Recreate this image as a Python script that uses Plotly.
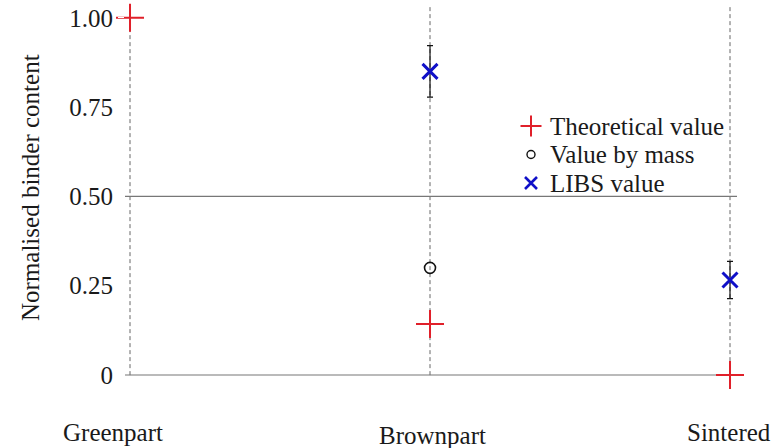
import plotly.graph_objects as go

# Processing stages and measured binder contents (normalised)
stages = ["Greenpart", "Brownpart", "Sintered"]
stage_pos = [0, 1, 2]

theoretical_x = [0, 1, 2]
theoretical_y = [1.00, 0.143, 0.0]

mass_x = [1]
mass_y = [0.30]

libs_x = [1, 2]
libs_y = [0.85, 0.266]
libs_err = [0.072, 0.052]

ytick_vals = [0, 0.25, 0.5, 0.75, 1.0]
ytick_text = ["0", "0.25", "0.50", "0.75", "1.00"]

legend_names = ["Theoretical value", "Value by mass", "LIBS value"]

FONT = "Liberation Serif"
TEXT = "#1a1a1a"
FS = 25
RED, BLACK, BLUE = "#e0202a", "#111111", "#1010c8"

# Plot area in pixels (left, right, top, bottom)
L, R, T, B = 125, 737, 5, 380
W, H = 771, 448


def px_to_paper(px, py):
    return (px - L) / (R - L), (B - py) / (B - T)


marker_styles = [
    dict(symbol="cross-thin-open", size=20, color=RED, line=dict(width=2, color=RED)),
    dict(symbol="circle-open", size=11, color=BLACK, line=dict(width=1.6, color=BLACK)),
    dict(symbol="x-thin-open", size=15, color=BLUE, line=dict(width=3, color=BLUE)),
]

fig = go.Figure()

fig.add_trace(go.Scatter(
    x=theoretical_x, y=theoretical_y, mode="markers", name=legend_names[0],
    marker=marker_styles[0], cliponaxis=False,
))
fig.add_trace(go.Scatter(
    x=mass_x, y=mass_y, mode="markers", name=legend_names[1],
    marker=marker_styles[1], cliponaxis=False,
))
fig.add_trace(go.Scatter(
    x=libs_x, y=libs_y, mode="markers", name=legend_names[2],
    marker=marker_styles[2],
    error_y=dict(type="data", array=libs_err, visible=True,
                 color=BLACK, thickness=1.2, width=3),
    cliponaxis=False,
))

# Compact key: symbols on a pixel-scaled overlay axis, labels as annotations
key_x, key_y0, key_dy = 531, 126, 28.5
key_sizes = [15, 8, 12]
key_widths = [2, 1.4, 2.6]
for i, name in enumerate(legend_names):
    ky = key_y0 + i * key_dy
    st = dict(marker_styles[i])
    st["size"] = key_sizes[i]
    st["line"] = dict(width=key_widths[i], color=st["color"])
    fig.add_trace(go.Scatter(x=[key_x], y=[ky], xaxis="x2", yaxis="y2",
                             mode="markers", marker=st, showlegend=False,
                             hoverinfo="skip", cliponaxis=False))
    ax, ay = px_to_paper(548, ky)
    fig.add_annotation(x=ax, y=ay, xref="paper", yref="paper", text=name,
                       showarrow=False, xanchor="left", yanchor="middle",
                       font=dict(family=FONT, size=FS, color=TEXT))

# Dashed vertical guides at each processing stage
for xp in stage_pos:
    fig.add_shape(type="line", xref="x", yref="paper", x0=xp, x1=xp,
                  y0=0.013, y1=1, line=dict(color="#666666", width=1, dash="4px,3px"),
                  layer="below")

# Solid horizontal reference lines
for yv in [0.0, 0.5]:
    fig.add_shape(type="line", xref="paper", yref="y", x0=0, x1=1,
                  y0=yv, y1=yv, line=dict(color="#777777", width=1.2),
                  layer="below")

# Stage labels beneath the plot
label_pos = [(113, 432), (432, 435), (729, 432)]
for name, (px, py) in zip(stages, label_pos):
    ax, ay = px_to_paper(px, py)
    fig.add_annotation(x=ax, y=ay, xref="paper", yref="paper", text=name,
                       showarrow=False, xanchor="center", yanchor="middle",
                       font=dict(family=FONT, size=FS, color=TEXT))

# Y-axis title
ax, ay = px_to_paper(30, 188)
fig.add_annotation(x=ax, y=ay, xref="paper", yref="paper", text="Normalised binder content",
                   showarrow=False, textangle=-90, xanchor="center", yanchor="middle",
                   font=dict(family=FONT, size=FS, color=TEXT))

fig.update_layout(
    width=W, height=H,
    margin=dict(l=L, r=W - R, t=T, b=H - B),
    paper_bgcolor="white", plot_bgcolor="white",
    font=dict(family=FONT, size=FS, color=TEXT),
    showlegend=False,
    xaxis=dict(range=[-0.0167, 2.0233], showgrid=False, zeroline=False,
               showline=False, showticklabels=False, ticks=""),
    yaxis=dict(range=[-0.014, 1.036], showgrid=False, zeroline=False,
               showline=False, tickvals=ytick_vals, ticktext=ytick_text,
               ticks="outside", ticklen=6, tickcolor="white"),
    xaxis2=dict(overlaying="x", range=[L, R], visible=False, fixedrange=True),
    yaxis2=dict(overlaying="y", range=[B, T], visible=False, fixedrange=True),
)

fig.write_html("out.html")
